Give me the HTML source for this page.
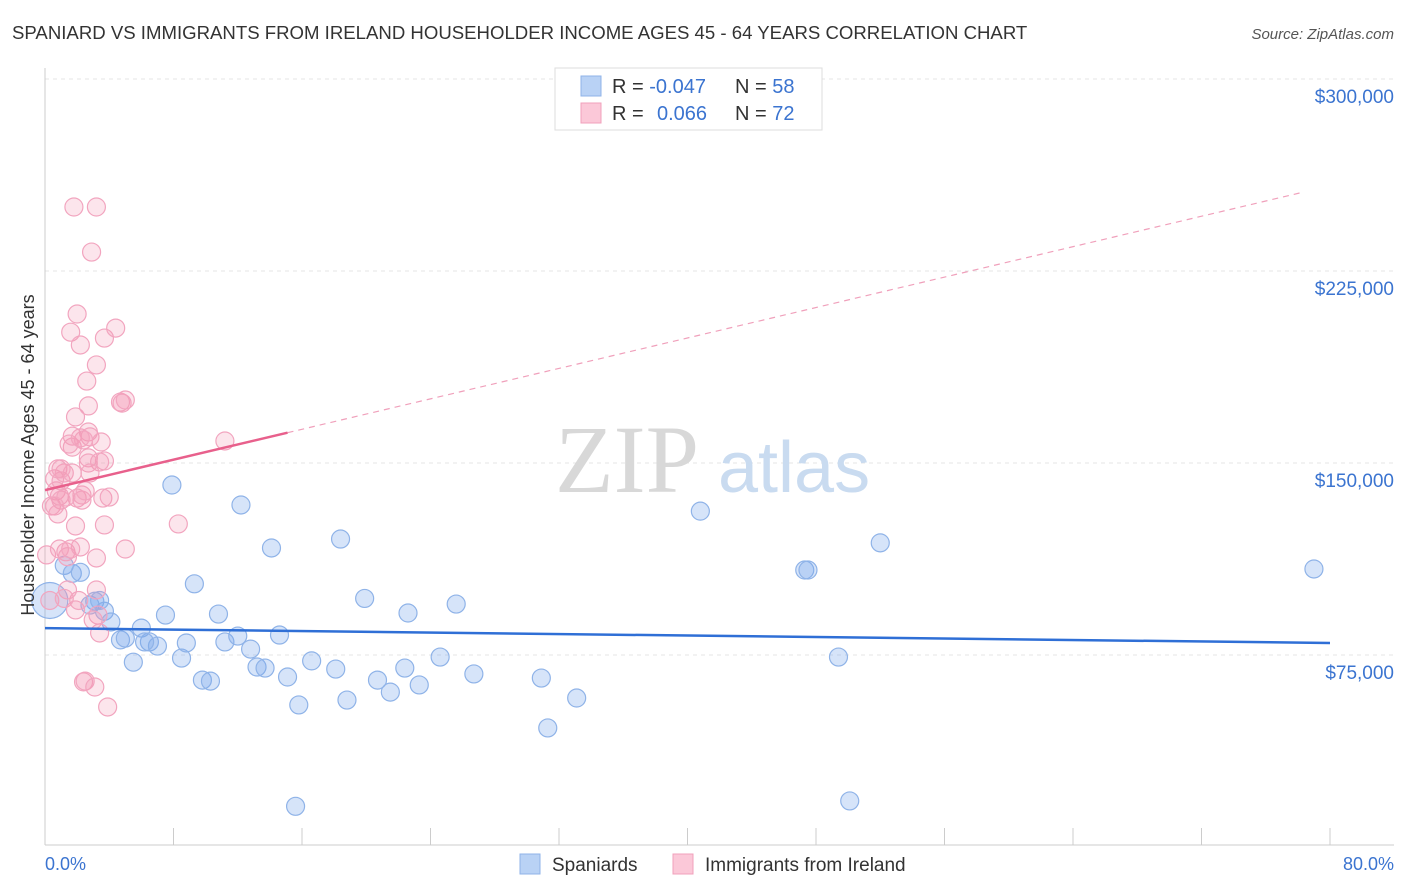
<!DOCTYPE html>
<html><head><meta charset="utf-8"><style>
body{margin:0;background:#fff;font-family:"Liberation Sans",sans-serif;}
svg{display:block}
</style></head><body>
<svg id="chart" width="1406" height="892">
<text x="12" y="39" font-size="18.6" fill="#333">SPANIARD VS IMMIGRANTS FROM IRELAND HOUSEHOLDER INCOME AGES 45 - 64 YEARS CORRELATION CHART</text>
<text x="1394" y="39" font-size="15" fill="#555" text-anchor="end" font-style="italic">Source: ZipAtlas.com</text>
<g id="grid"></g>
<g>
<text x="555" y="492" font-size="96" fill="#d8d8d8" font-family="Liberation Serif,serif">ZIP</text>
<text x="718" y="492" font-size="72" fill="#c9dbf0">atlas</text>
</g>
<g id="marks"></g>
<text transform="translate(34,455) rotate(-90)" font-size="18" fill="#333" text-anchor="middle">Householder Income Ages 45 - 64 years</text>
<text x="45" y="870" font-size="18" fill="#3b74d0">0.0%</text>
<text x="1394" y="870" font-size="18" fill="#3b74d0" text-anchor="end">80.0%</text>
<g>
<rect x="555" y="68" width="267" height="62" fill="#fff" stroke="#ddd"/>
<rect x="581" y="76" width="20" height="20" fill="#b9d2f5" stroke="#8fb3e8"/>
<rect x="581" y="103" width="20" height="20" fill="#fbc8d8" stroke="#f0a0bb"/>
<text x="612" y="93" font-size="20" fill="#333">R = <tspan fill="#3b74d0">-0.047</tspan><tspan x="735">N = </tspan><tspan fill="#3b74d0">58</tspan></text>
<text x="612" y="120" font-size="20" fill="#333">R = <tspan x="657" fill="#3b74d0">0.066</tspan><tspan x="735">N = </tspan><tspan fill="#3b74d0">72</tspan></text>
</g>
<g>
<rect x="520" y="854" width="20" height="20" fill="#b9d2f5" stroke="#8fb3e8"/>
<text x="552" y="871" font-size="19" fill="#333">Spaniards</text>
<rect x="673" y="854" width="20" height="20" fill="#fbc8d8" stroke="#f0a0bb"/>
<text x="705" y="871" font-size="19" fill="#333">Immigrants from Ireland</text>
</g>
</svg>
<script>
const yTicks=[75000,150000,225000,300000];
const yTickLabels=["$75,000","$150,000","$225,000","$300,000"];
const xTicks=[0,8,16,24,32,40,48,56,64,72,80];
const blueX=[0.3,1.2,1.7,2.2,3.1,2.8,3.7,4.1,4.7,5.0,5.5,6.0,6.5,7.0,7.5,7.9,8.5,8.8,9.3,9.8,10.3,10.8,11.2,12.0,12.2,12.8,13.2,13.7,14.1,14.6,15.1,15.8,15.6,16.6,18.1,18.4,18.8,19.9,20.7,21.5,22.4,22.6,23.3,24.6,25.6,26.7,30.9,31.3,33.1,40.8,47.3,47.5,49.4,50.1,52.0,79.0,3.4,6.2];
const blueY=[96.3,110,106.9,107.3,96,94.5,92.1,87.9,80.9,81.6,72.2,85.5,80.1,78.5,90.6,141.4,73.8,79.7,102.8,65.2,64.8,91.0,80.1,82.4,133.6,77.3,70.3,69.9,116.8,82.8,66.4,55.5,15.9,72.7,69.5,120.3,57.4,97.1,65.2,60.5,69.9,91.4,63.3,74.2,94.9,67.6,66.0,46.5,58.2,131.2,108.2,108.2,74.2,18.0,118.8,108.6,96.3,80.1];
const pinkX=[0.1,0.3,0.4,0.6,0.7,0.8,0.9,1.0,1.2,1.3,1.4,1.6,1.7,1.7,1.8,1.9,2.0,2.0,2.2,2.2,2.3,2.3,2.4,2.5,2.6,2.7,2.7,2.7,2.8,2.9,3.1,3.2,3.2,3.2,3.3,3.4,3.5,3.6,3.7,3.7,3.7,3.9,4.0,4.4,4.7,4.8,5.0,5.0,8.3,11.2,1.0,1.3,1.5,1.9,2.1,3.0,3.2,3.4,2.4,0.9,0.6,1.6,2.5,1.4,1.7,1.0,2.7,2.2,1.2,2.8,1.9,0.8];
const pinkY=[114.1,96.3,133.2,143.8,139.1,147.7,137.1,143,146.1,115.3,113.4,201.1,156.2,160.5,250,168,208.2,136.3,196.1,117.2,137.5,135.5,64.5,64.8,182.0,172.3,162.1,152,160.2,232.4,62.5,112.9,188.3,250,90.6,83.6,158.2,136.3,198.8,125.8,150.8,54.7,136.7,202.7,173.8,173.4,174.6,116.4,126.2,158.6,135.5,136.7,157.4,92.6,96.3,88.7,100.4,150.4,159.0,116.4,133.2,116.4,139.1,100.4,146.1,147.7,150.0,159.8,97.1,146.1,125.4,130.1];
const blueTrend=[85.5,79.7];
const pinkTrend=[139.4,255.9];
const pinkSolidEnd=15.1, pinkDashEnd=78.4;
const X=v=>45+v/80*1285, Y=v=>847-v/75000*192;
const NS="http://www.w3.org/2000/svg";
const grid=document.getElementById('grid'), marks=document.getElementById('marks');
function mk(tag,attrs,parent){const e=document.createElementNS(NS,tag);for(const k in attrs)e.setAttribute(k,attrs[k]);parent.appendChild(e);return e;}
yTicks.forEach((t,i)=>{
 const l=mk('line',{x1:45,x2:1394,y1:Y(t),y2:Y(t),stroke:'#e4e4e4','stroke-dasharray':'4,4'},grid);
 
 
 const tx=mk('text',{x:1394,y:Y(t)+24,'font-size':19,fill:'#3b74d0','text-anchor':'end'},grid);
 tx.textContent=yTickLabels[i];
 
 
});
const ax=mk('line',{x1:45,x2:1394,y1:845,y2:845,stroke:'#ccc'},grid);


const ay=mk('line',{x1:45,x2:45,y1:68,y2:845,stroke:'#ccc'},grid);


xTicks.forEach(t=>{
 const l=mk('line',{x1:X(t),x2:X(t),y1:828,y2:845,stroke:'#ccc'},grid);
 
 
});
blueX.forEach((x,i)=>{
 const big=i===0;
 const c=mk('circle',{cx:X(x),cy:Y(blueY[i]*1000),r:big?18:9,fill:'rgba(120,165,235,0.3)',stroke:'#8fb3e8','stroke-width':1.2},marks);
 
 
});
pinkX.forEach((x,i)=>{
 const c=mk('circle',{cx:X(x),cy:Y(pinkY[i]*1000),r:9,fill:'rgba(245,150,180,0.25)',stroke:'#f2a5bf','stroke-width':1.2},marks);
 
 
});
const pk=v=>pinkTrend[0]+(pinkTrend[1]-pinkTrend[0])*v/pinkDashEnd;
const bl=mk('line',{x1:X(0),y1:Y(blueTrend[0]*1000),x2:X(80),y2:Y(blueTrend[1]*1000),stroke:'#2f6fd6','stroke-width':2.5},marks);


const pd=mk('line',{x1:X(pinkSolidEnd),y1:Y(pk(pinkSolidEnd)*1000),x2:X(pinkDashEnd),y2:Y(pk(pinkDashEnd)*1000),stroke:'#f0a0bb','stroke-width':1.2,'stroke-dasharray':'6,5'},marks);


const ps=mk('line',{x1:X(0),y1:Y(pk(0)*1000),x2:X(pinkSolidEnd),y2:Y(pk(pinkSolidEnd)*1000),stroke:'#e8608c','stroke-width':2.5},marks);


</script>
</body></html>
